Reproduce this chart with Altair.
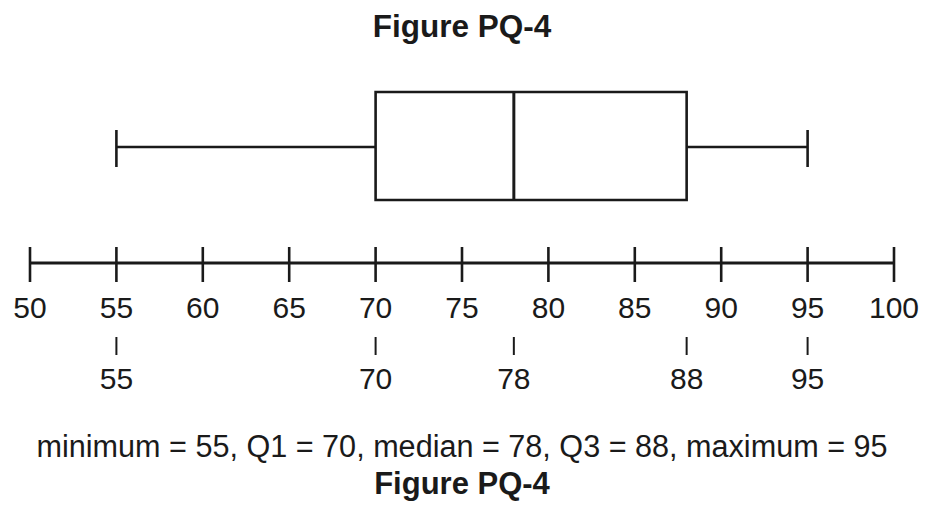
import altair as alt
import pandas as pd

# ---- data ----
title_text = "Figure PQ-4"
minimum = 55
q1 = 70
median = 78
q3 = 88
maximum = 95
axis_ticks = [50, 55, 60, 65, 70, 75, 80, 85, 90, 95, 100]
summary_ticks = [55, 70, 78, 88, 95]
summary_text = "minimum = 55, Q1 = 70, median = 78, Q3 = 88, maximum = 95"

W = 864
H = 496
INK = "#1a1a1a"
FONT = "Liberation Sans"

xs = alt.Scale(domain=[50, 100], nice=False, zero=False)

stats = pd.DataFrame([{"min": minimum, "q1": q1, "med": median, "q3": q3, "max": maximum}])
ticks_df = pd.DataFrame({"v": axis_ticks, "lab": [str(t) for t in axis_ticks]})
sum_df = pd.DataFrame({"v": summary_ticks, "lab": [str(t) for t in summary_ticks]})
ttl_df = pd.DataFrame({"t": [title_text]})
txt_df = pd.DataFrame({"t": [summary_text]})

base = alt.Chart(stats)

box = base.mark_rect(fill="white", stroke=INK, strokeWidth=2.6).encode(
    x=alt.X("q1:Q", scale=xs, axis=None), x2="q3:Q",
    y=alt.value(84), y2=alt.value(192))
med = base.mark_rule(color=INK, strokeWidth=3).encode(
    x=alt.X("med:Q", scale=xs), y=alt.value(84), y2=alt.value(192))
wl = base.mark_rule(color=INK, strokeWidth=2.6).encode(
    x=alt.X("min:Q", scale=xs), x2="q1:Q", y=alt.value(139))
wr = base.mark_rule(color=INK, strokeWidth=2.6).encode(
    x=alt.X("q3:Q", scale=xs), x2="max:Q", y=alt.value(139))
cl = base.mark_rule(color=INK, strokeWidth=2.6).encode(
    x=alt.X("min:Q", scale=xs), y=alt.value(122), y2=alt.value(159))
cr = base.mark_rule(color=INK, strokeWidth=2.6).encode(
    x=alt.X("max:Q", scale=xs), y=alt.value(122), y2=alt.value(159))

ax_line = alt.Chart(pd.DataFrame({"a": [axis_ticks[0]], "b": [axis_ticks[-1]]})).mark_rule(
    color=INK, strokeWidth=3).encode(
    x=alt.X("a:Q", scale=xs), x2="b:Q", y=alt.value(255))
ax_ticks = alt.Chart(ticks_df).mark_rule(color=INK, strokeWidth=2.6).encode(
    x=alt.X("v:Q", scale=xs), y=alt.value(239), y2=alt.value(274))
ax_labels = alt.Chart(ticks_df).mark_text(
    font=FONT, fontSize=30, color=INK, baseline="alphabetic", align="center").encode(
    x=alt.X("v:Q", scale=xs), y=alt.value(310), text="lab:N")

s_ticks = alt.Chart(sum_df).mark_rule(color=INK, strokeWidth=2).encode(
    x=alt.X("v:Q", scale=xs), y=alt.value(329), y2=alt.value(347))
s_labels = alt.Chart(sum_df).mark_text(
    font=FONT, fontSize=30, color=INK, baseline="alphabetic", align="center").encode(
    x=alt.X("v:Q", scale=xs), y=alt.value(381), text="lab:N")

top_title = alt.Chart(ttl_df).mark_text(
    font=FONT, fontSize=31.5, fontWeight="bold", color=INK, baseline="alphabetic", align="center").encode(
    x=alt.value(W / 2), y=alt.value(29), text="t:N")
summary = alt.Chart(txt_df).mark_text(
    font=FONT, fontSize=30.6, color=INK, baseline="alphabetic", align="center").encode(
    x=alt.value(W / 2), y=alt.value(449), text="t:N")
bot_title = alt.Chart(ttl_df).mark_text(
    font=FONT, fontSize=31, fontWeight="bold", color=INK, baseline="alphabetic", align="center").encode(
    x=alt.value(W / 2), y=alt.value(486), text="t:N")

chart = alt.layer(
    box, wl, wr, cl, cr, med, ax_line, ax_ticks, ax_labels, s_ticks, s_labels,
    top_title, summary, bot_title
).properties(
    width=W, height=H,
    padding={"left": 22, "top": 0, "right": 25, "bottom": 0},
    autosize=alt.AutoSizeParams(type="none"),
    background="white",
).configure_view(stroke=None)

chart.save("out.html", embed_options={"renderer": "svg", "actions": False})
